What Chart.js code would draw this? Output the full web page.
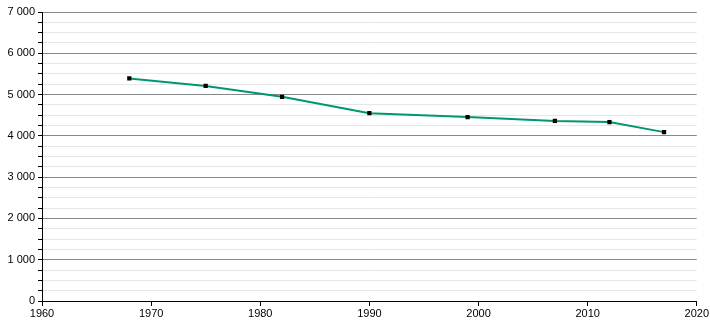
<!DOCTYPE html>
<html>
<head>
<meta charset="utf-8">
<script src="https://cdn.jsdelivr.net/npm/chart.js@4.4.1/dist/chart.umd.min.js"></script>
<style>
  html, body { margin: 0; padding: 0; background: #fff; }
  #wrap { width: 710px; height: 320px; }
</style>
</head>
<body>
<div id="wrap"><canvas id="popChart"></canvas></div>
<script>
// Données
const years = [1968, 1975, 1982, 1990, 1999, 2007, 2012, 2017];
const population = [5390, 5210, 4945, 4550, 4455, 4360, 4335, 4090];
const xTicks = [1960, 1970, 1980, 1990, 2000, 2010, 2020];
const yMajorStep = 1000;
const yMinorStep = 250;

// format "7 000"
function fmt(v) {
  return String(v).replace(/\B(?=(\d{3})+(?!\d))/g, " ");
}

const points = years.map((y, i) => ({ x: y, y: population[i] }));

const ctx = document.getElementById("popChart").getContext("2d");
new Chart(ctx, {
  type: "scatter",
  data: {
    datasets: [
      {
        data: points,
        showLine: true,
        borderColor: "#009670",
        borderWidth: 2,
        pointStyle: "rect",
        pointRadius: 3,
        pointBackgroundColor: "#000",
        pointBorderColor: "#000",
        pointBorderWidth: 0,
        tension: 0,
      },
    ],
  },
  options: {
    responsive: true,
    maintainAspectRatio: false,
    animation: false,
    layout: { padding: { top: 12, right: 10, left: 0, bottom: 0 } },
    plugins: {
      legend: { display: false },
      tooltip: { enabled: false },
    },
    scales: {
      x: {
        type: "linear",
        min: 1960,
        max: 2020,
        afterBuildTicks: (scale) => {
          scale.ticks = xTicks.map((v) => ({ value: v }));
        },
        afterFit: (scale) => {
          scale.height = 19;
        },
        grid: {
          drawOnChartArea: false,
          drawTicks: true,
          tickLength: 5,
          color: "#000",
        },
        border: { color: "#000", width: 1 },
        ticks: {
          color: "#000",
          font: { family: "Liberation Sans, Arial, sans-serif", size: 11 },
          padding: 1,
          maxRotation: 0,
          callback: (v) => String(v),
        },
      },
      y: {
        min: 0,
        max: 7000,
        afterFit: (scale) => {
          scale.width = 42;
        },
        grid: {
          color: (c) =>
            c.tick && c.tick.value % yMajorStep === 0 ? "#888" : "#e6e6e6",
          lineWidth: 1,
          tickColor: "#000",
          tickLength: 4,
        },
        border: { color: "#000", width: 1 },
        ticks: {
          stepSize: yMinorStep,
          autoSkip: false,
          color: "#000",
          padding: 3,
          font: { family: "Liberation Sans, Arial, sans-serif", size: 11 },
          callback: (v) => (v % yMajorStep === 0 ? fmt(v) : ""),
        },
      },
    },
  },
});
</script>
</body>
</html>
